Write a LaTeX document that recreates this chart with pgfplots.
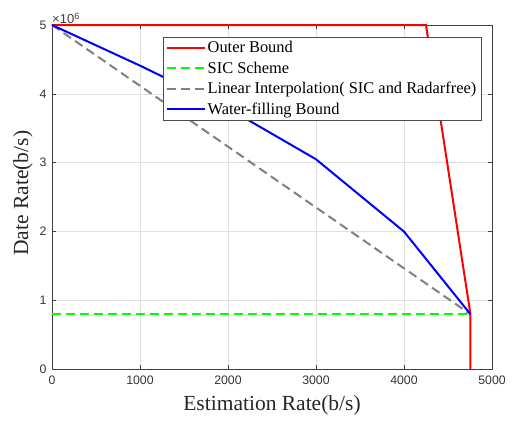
\documentclass[border=0pt]{standalone}
\usepackage{fontspec}
\setmainfont{Liberation Serif}
\setsansfont{Liberation Sans}
\usepackage{pgfplots}
\pgfplotsset{compat=1.18}
\begin{document}
\begin{tikzpicture}
\begin{axis}[
  at={(0,0)}, anchor=south west,
  scale only axis, width=440pt, height=344.3pt,
  xmin=0, xmax=5000, ymin=0, ymax=5,
  xtick={0,1000,...,5000}, ytick={0,1,...,5},
  scaled x ticks=false, scaled y ticks=false,
  tick align=inside,
  major tick length=4pt,
  grid=major, major grid style={black!12, line width=0.5pt},
  axis line style={black!75, line width=0.6pt},
  tick style={black!75, line width=0.5pt},
  ticklabel style={font=\sffamily\fontsize{12.3}{12.3}\selectfont, text=black!80},
  /pgf/number format/assume math mode=true,
  /pgf/number format/1000 sep={},
  xticklabel style={yshift=-3pt},
  yticklabel style={xshift=-2pt},
  xlabel={Estimation Rate(b/s)}, ylabel={Date Rate(b/s)},
  label style={font=\fontsize{21.5}{21.5}\selectfont, text=black!85},
  xlabel style={at={(rel axis cs:0.5,0)}, anchor=center, yshift=-36pt},
  ylabel style={at={(rel axis cs:0,0.5)}, anchor=center, rotate=0, xshift=4pt, yshift=29pt},
  legend style={at={(rel axis cs:0.252,0.966)}, anchor=north west, draw=black!70, line width=0.6pt,
    font=\fontsize{16.4}{16.4}\selectfont, row sep=3.5pt, inner sep=2.5pt, cells={anchor=west}},
  legend image code/.code={\draw[#1] (0pt,0pt) -- (38pt,0pt);},
  clip=false,
]
\addplot[red, line width=2pt] coordinates {(0,5) (4250,5) (4755,0.8) (4755,0)};
\addlegendentry{Outer Bound}
\addplot[green, line width=2pt, dash pattern=on 9pt off 5pt] coordinates {(0,0.8) (4755,0.8)};
\addlegendentry{SIC Scheme}
\addplot[black!50, line width=2pt, dash pattern=on 9pt off 5pt] coordinates {(0,5) (4755,0.8)};
\addlegendentry{Linear Interpolation( SIC and Radarfree)}
\addplot[blue, line width=2pt] coordinates {(0,5) (1000,4.41) (2000,3.79) (3000,3.05) (4000,2.0) (4755,0.8)};
\addlegendentry{Water-filling Bound}
\node[anchor=south west, inner sep=0pt, yshift=1pt, font=\sffamily\fontsize{13}{13}\selectfont, text=black!75] at (rel axis cs:0,1) {×10\textsuperscript{6}};
\end{axis}
\pgfresetboundingbox
\path[use as bounding box] (-52pt,-51.7pt) rectangle (466pt,369.3pt);
\end{tikzpicture}
\end{document}
